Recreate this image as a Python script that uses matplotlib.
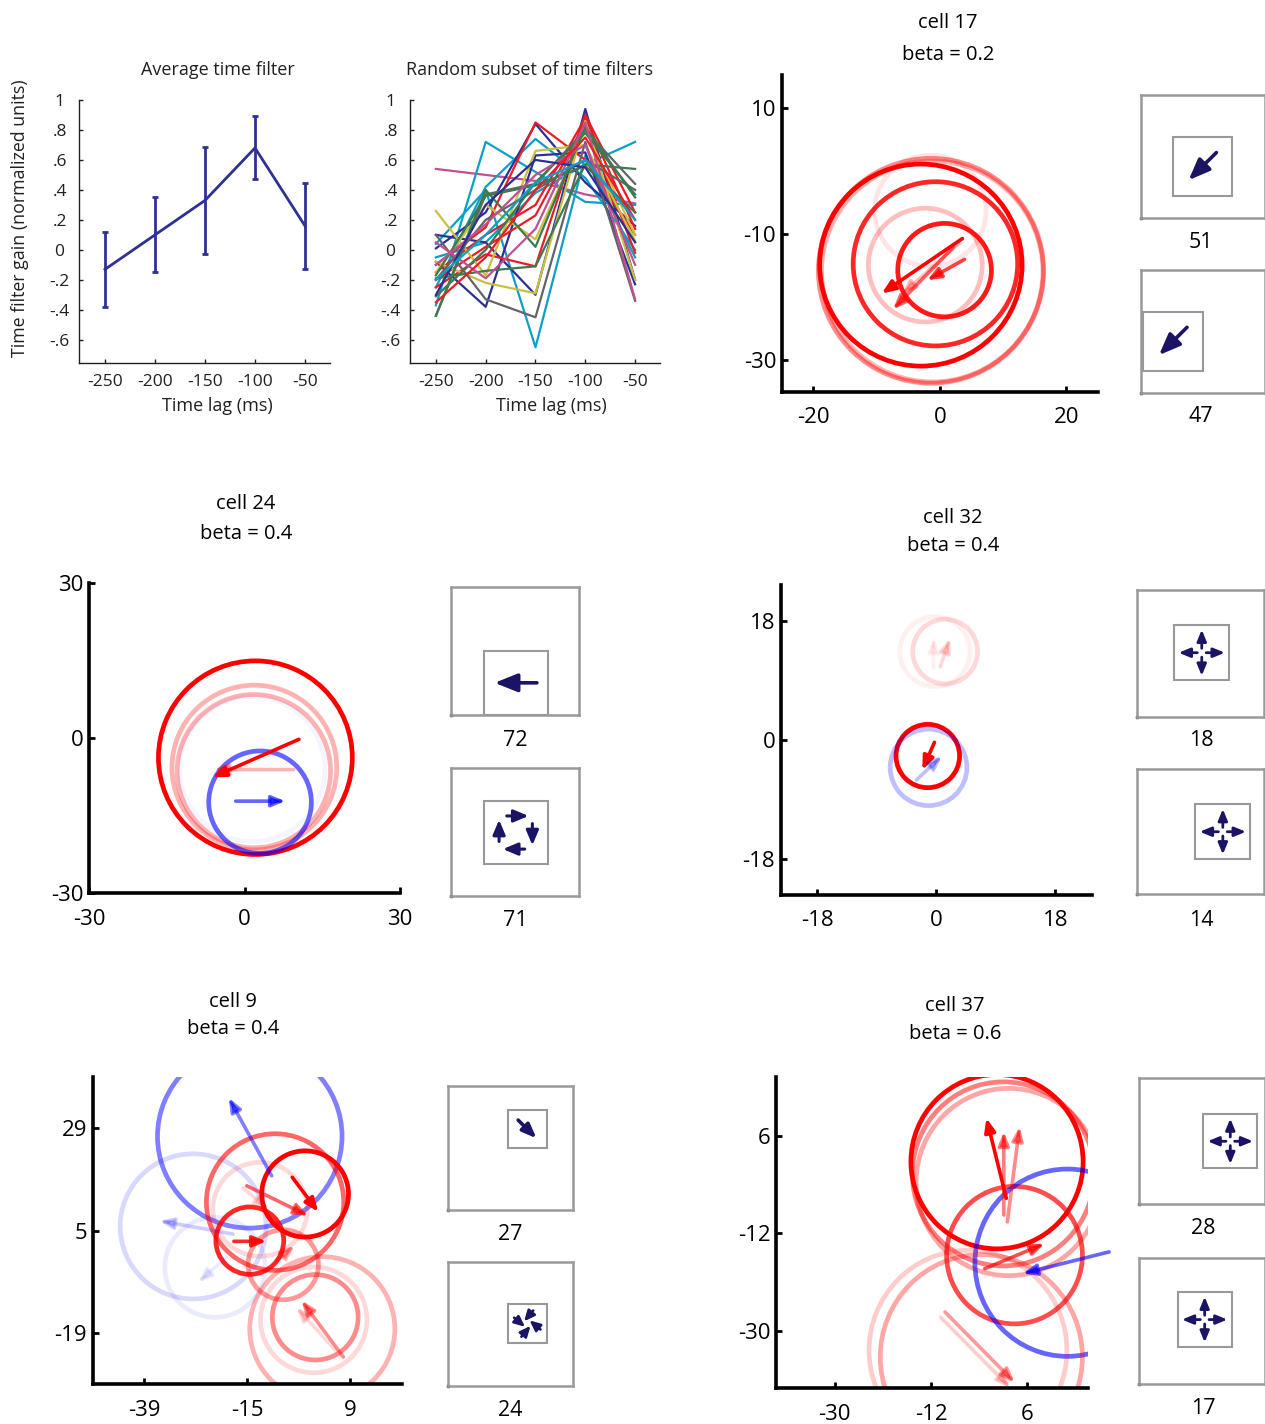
import matplotlib
matplotlib.use('Agg')
import numpy as np
import matplotlib.pyplot as plt
from matplotlib.patches import Circle, Rectangle

plt.rcParams['font.family'] = ['Open Sans', 'DejaVu Sans']

W, H = 1265, 1424

# ---------------- data ----------------
lags = [-250, -200, -150, -100, -50]
avg_gain = [-0.13, 0.10, 0.33, 0.68, 0.16]
avg_err = [0.25, 0.25, 0.355, 0.21, 0.285]

subset_color = ['mag', 'cyan', 'cyan', 'cyan', 'cyan', 'blue', 'blue', 'blue',
                'red', 'red', 'red', 'red', 'yel', 'yel', 'yel', 'gray', 'gray',
                'gray', 'green', 'green', 'green', 'green', 'mag', 'mag', 'blue',
                'red', 'cyan']
subset_gain = [
    [0.54, 0.50, 0.46, 0.37, 0.31],
    [-0.37, 0.72, 0.52, 0.32, 0.30],
    [-0.05, 0.05, 0.38, 0.57, 0.72],
    [0.04, 0.40, -0.65, 0.63, -0.05],
    [-0.25, 0.42, 0.74, 0.48, 0.00],
    [0.01, 0.25, 0.84, 0.45, 0.16],
    [-0.08, -0.38, 0.63, 0.65, -0.23],
    [0.10, 0.05, -0.30, 0.94, -0.20],
    [-0.25, -0.03, -0.11, 0.90, 0.25],
    [-0.15, 0.10, 0.30, 0.88, 0.14],
    [-0.20, 0.02, 0.23, 0.85, -0.02],
    [-0.10, 0.15, 0.85, 0.60, 0.10],
    [0.26, -0.17, 0.66, 0.70, 0.06],
    [-0.08, -0.22, -0.29, 0.86, -0.20],
    [-0.15, 0.30, 0.07, 0.80, 0.10],
    [0.10, -0.33, -0.45, 0.72, -0.34],
    [-0.44, 0.37, 0.44, 0.80, 0.44],
    [-0.20, 0.20, 0.40, 0.60, 0.40],
    [-0.44, 0.40, 0.02, 0.82, 0.35],
    [-0.19, -0.14, -0.11, 0.57, 0.54],
    [-0.31, 0.00, 0.45, 0.78, 0.37],
    [-0.17, 0.36, 0.43, 0.56, 0.25],
    [0.05, -0.19, 0.14, 0.85, -0.33],
    [-0.10, 0.17, 0.50, 0.70, -0.10],
    [-0.30, 0.30, 0.60, 0.55, 0.05],
    [-0.35, -0.05, 0.40, 0.75, 0.20],
    [-0.20, 0.10, 0.45, 0.60, 0.20],
]

# circles: (x, y, radius, sign, weight) ; arrows: (x0, y0, x1, y1, sign, weight)
circles17 = [(-1.4, -15.8, 17.8, 'r', 0.45), (-1.2, -15.9, 17.5, 'r', 0.3),
             (-3.0, -14.9, 16.0, 'r', 1.0), (-0.7, -14.7, 13.0, 'r', 0.85),
             (0.75, -15.7, 7.4, 'r', 0.9), (-2.3, -14.9, 9.0, 'r', 0.25),
             (-1.5, -6.3, 8.8, 'r', 0.1)]
arrows17 = [(3.56, -10.7, -9.2, -19.4, 'r', 1.0), (2.2, -12.0, -7.4, -21.9, 'r', 0.6),
            (3.9, -14.0, -2.0, -17.3, 'r', 0.75), (3.0, -11.5, -6.0, -19.5, 'r', 0.25)]

circles24 = [(2.1, -3.8, 18.7, 'r', 1.0), (1.9, -5.7, 15.9, 'r', 0.3),
             (1.8, -6.4, 14.8, 'r', 0.3), (3.0, -12.4, 9.9, 'b', 0.6),
             (1.5, -6.0, 14.0, 'b', 0.04)]
arrows24 = [(10.5, -0.25, -6.2, -7.6, 'r', 1.0), (9.5, -6.1, -5.9, -6.1, 'r', 0.3),
            (-1.7, -12.2, 7.9, -12.2, 'b', 0.6)]

circles32 = [(-1.27, -2.43, 4.8, 'r', 1.0), (-1.16, -4.15, 5.8, 'b', 0.25),
             (1.35, 13.4, 4.9, 'r', 0.15), (-0.2, 13.4, 5.3, 'r', 0.06)]
arrows32 = [(-0.26, -0.35, -2.1, -4.55, 'r', 1.0), (-3.0, -6.07, 0.85, -2.43, 'b', 0.25),
            (0.6, 11.1, 2.1, 15.4, 'r', 0.15), (-0.4, 11.0, -0.4, 15.5, 'r', 0.06)]

circles9 = [(-14.4, 27.1, 21.5, 'b', 0.5), (-27.6, 6.0, 17.0, 'b', 0.15),
            (-22.5, -3.6, 11.7, 'b', 0.08), (-8.5, 11.7, 16.0, 'r', 0.6),
            (-12.0, 10.0, 11.0, 'r', 0.15), (-1.5, 13.6, 10.1, 'r', 1.0),
            (-14.4, 2.66, 7.9, 'r', 0.85), (-6.6, -3.0, 8.2, 'r', 0.4),
            (2.5, -18.0, 16.9, 'r', 0.3), (0.85, -15.3, 10.0, 'r', 0.45),
            (0.5, -15.9, 12.4, 'r', 0.15)]
arrows9 = [(-9.3, 17.85, -19.3, 36.1, 'b', 0.5), (-18.3, 4.2, -35.4, 7.3, 'b', 0.2),
           (-19.8, -1.2, -26.4, -7.1, 'b', 0.08), (-4.5, 17.5, 1.55, 9.4, 'r', 1.0),
           (-15.1, 15.5, -0.8, 8.5, 'r', 0.6), (-18.1, 2.5, -10.5, 2.5, 'r', 0.85),
           (-16.0, 15.0, -10.0, 10.0, 'r', 0.15), (-8.0, -2.0, -4.0, 1.5, 'r', 0.3),
           (7.4, -24.6, -2.3, -11.4, 'r', 0.45), (5.5, -23.0, -3.5, -13.0, 'r', 0.15)]

circles37 = [(0.33, 1.26, 16.1, 'r', 1.0), (1.5, -1.0, 17.0, 'r', 0.5),
             (2.5, -2.5, 17.3, 'r', 0.35), (3.6, -16.0, 12.7, 'r', 0.7),
             (13.5, -17.4, 17.3, 'b', 0.6), (-5.1, -33.6, 18.5, 'r', 0.2),
             (-2.6, -34.8, 18.9, 'r', 0.35)]
arrows37 = [(2.07, -5.5, -1.65, 9.3, 'r', 1.0), (1.6, -8.6, 1.6, 6.8, 'r', 0.5),
            (2.26, -9.85, 4.55, 7.7, 'r', 0.45), (-1.96, -18.5, 9.2, -13.9, 'r', 0.7),
            (21.3, -15.4, 5.16, -19.4, 'b', 0.6), (-9.4, -26.5, 3.6, -39.5, 'r', 0.4),
            (-10.2, -27.5, 2.8, -40.5, 'r', 0.2)]

cell_ids = [17, 24, 32, 9, 37]
cell_beta = [0.2, 0.4, 0.4, 0.4, 0.6]
cell_xticks = [[-20, 0, 20], [-30, 0, 30], [-18, 0, 18], [-39, -15, 9], [-30, -12, 6]]
cell_yticks = [[-30, -10, 10], [-30, 0, 30], [-18, 0, 18], [-19, 5, 29], [-30, -12, 6]]
cell_xlim = [(-25, 25), (-30, 30), (-23.5, 23.5), (-51, 21), (-41, 17.4)]
cell_ylim = [(-35, 15.2), (-30, 30), (-23.5, 23.5), (-31, 41), (-40.6, 16.9)]
cell_circles = [circles17, circles24, circles32, circles9, circles37]
cell_arrows = [arrows17, arrows24, arrows32, arrows9, arrows37]

# subunit insets: label, inner box (x0, y0, w, h) as fraction of frame, pattern, direction
sub_labels = [51, 47, 72, 71, 18, 14, 27, 24, 28, 17]
sub_box = [(0.256, 0.179, 0.48, 0.482), (0.016, 0.181, 0.484, 0.48),
           (0.255, 0.0, 0.499, 0.504), (0.255, 0.247, 0.499, 0.5),
           (0.291, 0.29, 0.433, 0.43), (0.457, 0.282, 0.433, 0.437),
           (0.475, 0.496, 0.314, 0.308), (0.475, 0.348, 0.314, 0.308),
           (0.509, 0.284, 0.43, 0.43), (0.305, 0.295, 0.43, 0.43)]
sub_kind = ['single', 'single', 'single', 'rot', 'exp', 'exp', 'single', 'spiral', 'exp', 'exp']
sub_angle = [225, 225, 180, 0, 0, 0, -45, 0, 0, 0]

# ---------------- layout (pixels) ----------------
fig = plt.figure(figsize=(W / 100, H / 100), dpi=100)


def add_ax(l, t, r, b):
    return fig.add_axes([l / W, 1 - b / H, (r - l) / W, (b - t) / H])


def ftext(x, y, s, **kw):
    fig.text(x / W, 1 - y / H, s, ha='center', va='center', **kw)


def draw_arrow(ax, p0, p1, color, alpha, lw, hl, hw):
    ax.annotate('', xy=p1, xytext=p0, annotation_clip=False,
                arrowprops=dict(arrowstyle=f'-|>,head_length={hl},head_width={hw}',
                                mutation_scale=0.72, color=color, alpha=alpha, lw=lw,
                                shrinkA=0, shrinkB=0))


def tick_labels(vals):
    out = []
    for v in vals:
        s = ('%.1f' % v).rstrip('0').rstrip('.')
        s = s.replace('0.', '.')
        out.append(s if s != '-0' else '0')
    return out


dark = '#231f20'

# ---------------- time filter panels ----------------
axA = add_ax(79, 100, 330, 363)
axB = add_ax(410, 100, 660, 363)
palette = {'blue': '#2b3192', 'cyan': '#0aa0c8', 'red': '#ed1c24', 'mag': '#c0508f',
           'yel': '#c9c040', 'gray': '#646466', 'green': '#3d7a52'}

axA.errorbar(lags, avg_gain, yerr=avg_err, color='#2e3192', lw=2, capsize=2,
             capthick=2, elinewidth=2)
for col, g in zip(subset_color, subset_gain):
    axB.plot(lags, g, color=palette[col], lw=1.6)

yt = [-0.6, -0.4, -0.2, 0, 0.2, 0.4, 0.6, 0.8, 1.0]
for ax in (axA, axB):
    ax.set_xlim(-276, -25)
    ax.set_ylim(-0.755, 1.0)
    ax.set_xticks(lags)
    ax.set_xticklabels([str(v) for v in lags])
    ax.set_yticks(yt)
    ax.set_yticklabels(tick_labels(yt))
    for s in ('top', 'right'):
        ax.spines[s].set_visible(False)
    for s in ('left', 'bottom'):
        ax.spines[s].set_color(dark)
        ax.spines[s].set_linewidth(1.0)
    ax.tick_params(direction='in', length=3, width=1, color=dark, labelsize=12.5,
                   labelcolor=dark, pad=8)
    ax.tick_params(axis='y', pad=14)
    for lab in ax.get_yticklabels():
        lab.set_horizontalalignment('center')

ftext(218, 70, 'Average time filter', fontsize=13, color=dark)
ftext(530, 70, 'Random subset of time filters', fontsize=13, color=dark)
ftext(217, 406, 'Time lag (ms)', fontsize=13, color=dark)
ftext(551, 406, 'Time lag (ms)', fontsize=13, color=dark)
ftext(20, 218, 'Time filter gain (normalized units)', fontsize=12.8, color=dark,
      rotation=90)

# ---------------- cell panels ----------------
main_pos = [(781.7, 75, 1098, 392), (89, 582.7, 400, 893.3), (780.7, 585, 1091.7, 895),
            (92.7, 1077, 401.7, 1384.3), (776, 1077, 1088.3, 1388.3)]
title_pos = [(948, 23, 55), (246, 504, 534), (953, 518, 546), (233, 1002, 1029),
             (955, 1006, 1034)]
rgb = {'r': (1, 0, 0), 'b': (0, 0, 1)}

for k in range(5):
    ax = add_ax(*main_pos[k])
    for (cx, cy, r, sg, wgt) in cell_circles[k]:
        ax.add_patch(Circle((cx, cy), r, fill=False, ec=rgb[sg], alpha=wgt, lw=3.4))
    for (x0, y0, x1, y1, sg, wgt) in cell_arrows[k]:
        draw_arrow(ax, (x0, y0), (x1, y1), rgb[sg], wgt, 2.6, 11, 4.5)
    ax.set_xlim(*cell_xlim[k])
    ax.set_ylim(*cell_ylim[k])
    ax.set_xticks(cell_xticks[k])
    ax.set_yticks(cell_yticks[k])
    ax.set_xticklabels([str(v) for v in cell_xticks[k]])
    ax.set_yticklabels([str(v) for v in cell_yticks[k]])
    for s in ('top', 'right'):
        ax.spines[s].set_visible(False)
    for s in ('left', 'bottom'):
        ax.spines[s].set_linewidth(2.6)
        ax.spines[s].set_color('black')
    ax.tick_params(direction='in', length=4, width=2, labelsize=16)
    ax.tick_params(axis='x', pad=11)
    ax.tick_params(axis='y', pad=4)
    tx, ty1, ty2 = title_pos[k]
    ftext(tx, ty1, 'cell %d' % cell_ids[k], fontsize=14.5)
    ftext(tx, ty2, 'beta = %.1f' % cell_beta[k], fontsize=14.5)

# ---------------- subunit insets ----------------
sub_pos = [(1141, 95, 1265, 218), (1141, 270, 1265, 393),
           (451, 587.3, 579.3, 715), (451, 768.3, 579.3, 896),
           (1137.3, 590, 1264.3, 716.7), (1137.3, 769.3, 1264.3, 894.3),
           (448.3, 1085.7, 573.3, 1210), (448.3, 1261.7, 573.3, 1386),
           (1139.3, 1078.3, 1265, 1204), (1139.3, 1257.7, 1265, 1384)]
navy = '#1b1464'
gray = '#999999'


def unit(th):
    a = np.deg2rad(th)
    return np.array([np.cos(a), np.sin(a)])


for k in range(len(sub_labels)):
    l, t, r, b = sub_pos[k]
    ax = add_ax(l, t, r, b)
    ax.set_xlim(0, 1)
    ax.set_ylim(0, 1)
    ax.set_xticks([])
    ax.set_yticks([])
    for s in ax.spines.values():
        s.set_color(gray)
        s.set_linewidth(1.8)
    ax.plot([0], [0], 's', color='black', ms=1.5, clip_on=False)
    x0, y0, w, h = sub_box[k]
    ax.add_patch(Rectangle((x0, y0), w, h, fill=False, ec=gray, lw=1.5))
    c = np.array([x0 + w / 2, y0 + h / 2])
    s = w
    px = w * (r - l)
    kind = sub_kind[k]
    if kind == 'single':
        u = unit(sub_angle[k])
        L = 0.66 * s
        draw_arrow(ax, c - u * L / 2, c + u * L / 2, navy, 1, 2.6, 0.3 * px, 0.12 * px)
    elif kind == 'exp':
        for th in (0, 90, 180, 270):
            u = unit(th)
            draw_arrow(ax, c + u * 0.08 * s, c + u * 0.42 * s, navy, 1, 2.0,
                       0.17 * px, 0.07 * px)
    elif kind == 'rot':
        for th in (0, 90, 180, 270):
            u = unit(th)
            d = unit(th - 90)
            m = c + u * 0.26 * s + d * 0.03 * s
            draw_arrow(ax, m - d * 0.17 * s, m + d * 0.17 * s, navy, 1, 2.2,
                       0.19 * px, 0.08 * px)
    else:
        for th in (80, -10, 170, 260):
            u = unit(th)
            d = unit(th + 150)
            m = c + u * 0.2 * s
            draw_arrow(ax, m - d * 0.18 * s, m + d * 0.18 * s, navy, 1, 1.9,
                       0.22 * px, 0.1 * px)

label_pos = [(1201, 242), (1201, 417), (515, 740), (515, 921), (1201, 740),
             (1201, 920), (510, 1234), (510, 1410), (1203, 1229), (1203, 1409)]
for lab, (x, y) in zip(sub_labels, label_pos):
    ftext(x, y, str(lab), fontsize=15.5)

fig.savefig('out.png', dpi=100)
